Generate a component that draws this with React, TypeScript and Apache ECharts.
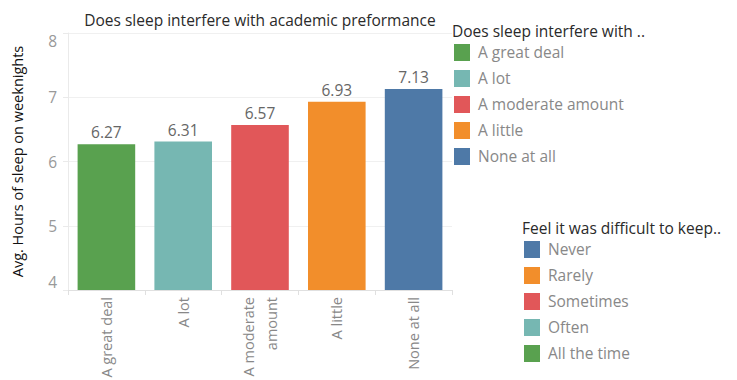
import React, { useEffect, useRef } from "react";
import * as echarts from "echarts";

const categories = ["A great deal", "A lot", "A moderate\namount", "A little", "None at all"];
const values = [6.27, 6.31, 6.57, 6.93, 7.13];
const barColors = ["#59a14f", "#76b7b2", "#e15759", "#f28e2b", "#4e79a7"];

const legend1Title = "Does sleep interfere with ..";
const legend1Names = ["A great deal", "A lot", "A moderate amount", "A little", "None at all"];
const legend1Colors = ["#59a14f", "#76b7b2", "#e15759", "#f28e2b", "#4e79a7"];

const legend2Title = "Feel it was difficult to keep..";
const legend2Names = ["Never", "Rarely", "Sometimes", "Often", "All the time"];
const legend2Colors = ["#4e79a7", "#f28e2b", "#e15759", "#76b7b2", "#59a14f"];

const chartTitle = "Does sleep interfere with academic preformance";
const yName = "Avg. Hours of sleep on weeknights";

const FONT = "Open Sans";
const FS = 15.5;

function legendGraphics(title: string, names: string[], colors: string[], x: number, y: number) {
  const els: any[] = [
    {
      type: "text",
      x,
      y,
      style: { text: title, fill: "#2a2a2a", font: `${FS}px "${FONT}"`, textVerticalAlign: "middle" },
    },
  ];
  names.forEach((n, i) => {
    const cy = y + 21 + i * 26;
    els.push({
      type: "rect",
      shape: { x: x + 2, y: cy - 8, width: 16, height: 17 },
      style: { fill: colors[i] },
    });
    els.push({
      type: "text",
      x: x + 26,
      y: cy,
      style: { text: n, fill: "#888", font: `${FS}px "${FONT}"`, textVerticalAlign: "middle" },
    });
  });
  return els;
}

export default function App() {
  const ref = useRef<HTMLDivElement>(null);
  useEffect(() => {
    const chart = echarts.init(ref.current!, null, { renderer: "svg" });
    chart.setOption({
      animation: false,
      textStyle: { fontFamily: FONT },
      grid: { left: 68, right: 285, top: 33, bottom: 90, containLabel: false, outerBoundsMode: "none" },
      xAxis: {
        type: "category",
        data: categories,
        axisLine: { lineStyle: { color: "#e0e0e0" } },
        axisTick: { show: true, length: 5, lineStyle: { color: "#e0e0e0" } },
        axisLabel: { rotate: 90, color: "#888", fontSize: 14.5, margin: 7, lineHeight: 23 },
      },
      yAxis: {
        type: "value",
        min: 4,
        max: 8,
        interval: 1,
        name: yName,
        nameLocation: "middle",
        nameRotate: 90,
        nameGap: 43,
        nameTextStyle: { color: "#111", fontSize: 14.5 },
        axisLine: { show: true, lineStyle: { color: "#eaeaea" } },
        axisTick: { show: true, length: 5, lineStyle: { color: "#eaeaea" } },
        axisLabel: {
          color: "#999",
          fontSize: FS,
          margin: 11,
          verticalAlignMaxLabel: "top",
          verticalAlignMinLabel: "bottom",
        },
        splitLine: { lineStyle: { color: "#f0f0f0" } },
      },
      series: [
        {
          type: "bar",
          data: values.map((v, i) => ({ value: v, itemStyle: { color: barColors[i] } })),
          barCategoryGap: "25%",
          label: { show: true, position: "top", color: "#666", fontSize: FS, distance: 4 },
        },
      ],
      graphic: [
        {
          type: "text",
          x: 260,
          y: 20,
          style: {
            text: chartTitle,
            fill: "#2a2a2a",
            font: `${FS}px "${FONT}"`,
            textAlign: "center",
            textVerticalAlign: "middle",
          },
        },
        ...legendGraphics(legend1Title, legend1Names, legend1Colors, 452, 31),
        ...legendGraphics(legend2Title, legend2Names, legend2Colors, 522, 228),
      ],
    });
    return () => chart.dispose();
  }, []);
  return (
    <div
      ref={ref}
      style={{ position: "fixed", left: 0, top: 0, width: 737, height: 380, background: "#fff" }}
    />
  );
}
